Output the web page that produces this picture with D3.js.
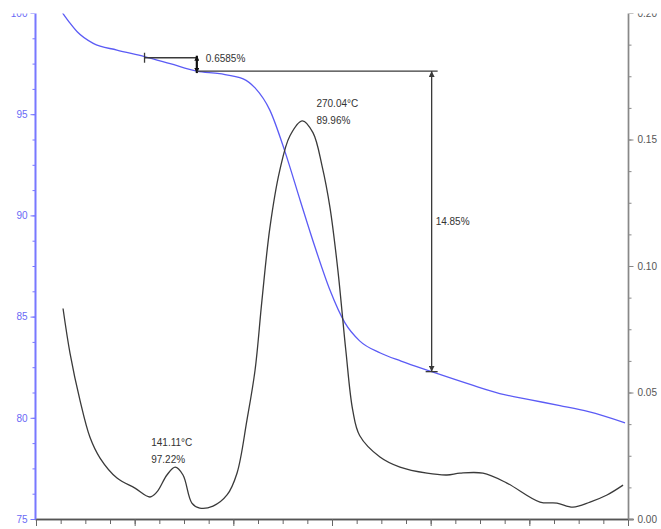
<!DOCTYPE html>
<html>
<head>
<meta charset="utf-8">
<script src="https://cdn.jsdelivr.net/npm/d3@7"></script>
<style>
  html, body { margin: 0; padding: 0; background: #fff; }
  svg { display: block; font-family: "Liberation Sans", Arial, sans-serif; }
</style>
</head>
<body>
<svg id="chart" width="661" height="529"></svg>
<script>
// ---- data ----
const tgTemp  = [27, 34.5, 42, 58, 82, 110, 136, 163, 186, 210, 222, 237, 252, 268, 283, 298, 313, 328, 349, 370, 401, 440, 470, 500, 531, 560, 597];
const tgValue = [100, 99.5, 99.06, 98.5, 98.17, 97.85, 97.5, 97.13, 97.0, 96.75, 96.3, 95.2, 93.2, 90.7, 88.4, 86.3, 84.7, 83.8, 83.2, 82.8, 82.28, 81.65, 81.2, 80.9, 80.6, 80.3, 79.75];

const dtgTemp  = [27.4, 34.5, 44.6, 54.7, 64.9, 82.1, 100.3, 115.5, 122.6, 132.7, 141.1, 149, 158, 166, 179.4, 193.6, 203.7, 213.8, 222, 229, 237, 247, 257.4, 270, 280.7, 289.9, 298, 306, 314, 321, 328, 348.6, 368.9, 396.3, 416.5, 429.7, 453, 477.3, 510.8, 528, 544.2, 561.5, 578.7, 595];
const dtgValue = [0.0832, 0.0655, 0.0469, 0.0323, 0.0241, 0.0162, 0.0122, 0.0087, 0.0107, 0.0174, 0.0205, 0.0174, 0.0063, 0.0043, 0.0051, 0.0095, 0.0181, 0.0391, 0.0588, 0.0864, 0.115, 0.1377, 0.1515, 0.1574, 0.1527, 0.1396, 0.1230, 0.0982, 0.0667, 0.043, 0.033, 0.0245, 0.0205, 0.0181, 0.0174, 0.0181, 0.0181, 0.0142, 0.0067, 0.0063, 0.0047, 0.0067, 0.0095, 0.0134];

const leftTicks  = [75, 80, 85, 90, 95, 100];
const leftLabels = ["75", "80", "85", "90", "95", "100"];
const rightTicks = [0, 0.05, 0.10, 0.15, 0.20];
const rightLabels = ["0.00", "0.05", "0.10", "0.15", "0.20"];
const xMajorTicks = [0, 100, 200, 300, 400, 500, 600];

// step annotation: temperatures and TG levels
const stepTemps  = [110, 163, 401];
const stepLevels = [97.79, 97.13, 82.28];
const stepLabels = ["0.6585%", "14.85%"];
const peakTemps  = [141.11, 270.04];
const peakLabels = [["141.11°C", "97.22%"], ["270.04°C", "89.96%"]];

// ---- layout ----
const svg = d3.select("#chart");
const L = 35.5, R = 628.5, T = 13, B = 519;

const x  = d3.scaleLinear().domain([0, 600]).range([36, 628]);
const yL = d3.scaleLinear().domain([75, 100]).range([B, T]);
const yR = d3.scaleLinear().domain([0, 0.20]).range([B, T]);

const blue = "#5b5bf5";
const ink = "#3a3a3a";

// defs for arrowheads
const defs = svg.append("defs");
defs.append("marker").attr("id", "arr").attr("viewBox", "0 0 10 10")
  .attr("refX", 10).attr("refY", 5).attr("markerWidth", 6).attr("markerHeight", 6)
  .attr("markerUnits", "userSpaceOnUse").attr("orient", "auto-start-reverse")
  .append("path").attr("d", "M0,0 L10,5 L0,10 Z").attr("fill", ink);
defs.append("marker").attr("id", "arrS").attr("viewBox", "0 0 10 10")
  .attr("refX", 10).attr("refY", 5).attr("markerWidth", 6).attr("markerHeight", 5)
  .attr("markerUnits", "userSpaceOnUse").attr("orient", "auto-start-reverse")
  .append("path").attr("d", "M0,0 L10,5 L0,10 Z").attr("fill", "#111");

// ---- axes ----
const minorL = d3.range(75, 100.01, 1.25);
const minorR = d3.range(0, 0.2001, 0.0125);
const minorX = d3.range(0, 600.01, 25);

// bottom axis
const gx = svg.append("g").attr("transform", `translate(0,${B})`);
gx.call(d3.axisBottom(x).tickValues(minorX).tickSize(5).tickFormat(""));
gx.append("g").call(d3.axisBottom(x).tickValues(xMajorTicks).tickSize(7).tickFormat(""));
gx.selectAll("path.domain").attr("stroke", "#555").attr("stroke-width", 1.3).attr("d", `M${L},0.5H${R + 5}`);
gx.selectAll(".tick line").attr("stroke", "#666");

// left axis
const gl = svg.append("g").attr("transform", `translate(${L},0)`);
gl.call(d3.axisLeft(yL).tickValues(minorL).tickSize(3).tickFormat(""));
const glm = gl.append("g").call(d3.axisLeft(yL).tickValues(leftTicks).tickSize(5)
  .tickFormat((d, i) => leftLabels[i]).tickPadding(3));
gl.selectAll("path.domain").attr("stroke", "#7878ff").attr("stroke-width", 1.6).attr("d", `M0,${T}V${B}`);
gl.selectAll(".tick line").attr("stroke", "#7878ff");
glm.selectAll("text").attr("fill", "#6a6af5").style("font-size", "10px").style("font-family", "Liberation Sans, Arial, sans-serif");

// right axis
const gr = svg.append("g").attr("transform", `translate(${R},0)`);
gr.call(d3.axisRight(yR).tickValues(minorR).tickSize(3).tickFormat(""));
const grm = gr.append("g").call(d3.axisRight(yR).tickValues(rightTicks).tickSize(5)
  .tickFormat((d, i) => rightLabels[i]).tickPadding(4));
gr.selectAll("path.domain").attr("stroke", "#888").attr("stroke-width", 1.4).attr("d", `M0,${T}V${B}`);
gr.selectAll(".tick line").attr("stroke", "#888");
grm.selectAll("text").attr("fill", "#555").style("font-size", "10px").style("font-family", "Liberation Sans, Arial, sans-serif");

// ---- curves ----
const tgLine = d3.line().x((d, i) => x(tgTemp[i])).y(d => yL(d)).curve(d3.curveMonotoneX);
svg.append("path").attr("d", tgLine(tgValue)).attr("fill", "none").attr("stroke", blue).attr("stroke-width", 1.3);

const dtgLine = d3.line().x((d, i) => x(dtgTemp[i])).y(d => yR(d)).curve(d3.curveCatmullRom.alpha(0.5));
svg.append("path").attr("d", dtgLine(dtgValue)).attr("fill", "none").attr("stroke", ink).attr("stroke-width", 1.3);

// ---- step annotations ----
const xa = x(stepTemps[0]), xb = x(stepTemps[1]), xc = x(stepTemps[2]);
const ya = yL(stepLevels[0]), yb = yL(stepLevels[1]), yc = yL(stepLevels[2]);
const ann = svg.append("g").attr("stroke", ink).attr("stroke-width", 1.3).attr("fill", "none");
// small step
ann.append("line").attr("x1", xa).attr("x2", xb).attr("y1", ya).attr("y2", ya);
ann.append("line").attr("x1", xa).attr("x2", xa).attr("y1", ya - 5).attr("y2", ya + 5);
ann.append("line").attr("x1", xb).attr("x2", xb).attr("y1", ya - 2).attr("y2", yb + 2)
  .attr("stroke", "#111").attr("stroke-width", 2.2)
  .attr("marker-start", "url(#arrS)").attr("marker-end", "url(#arrS)");
// big step
ann.append("line").attr("x1", xb).attr("x2", xc + 6).attr("y1", yb).attr("y2", yb);
ann.append("line").attr("x1", xc).attr("x2", xc).attr("y1", yb).attr("y2", yc)
  .attr("marker-start", "url(#arr)").attr("marker-end", "url(#arr)");
ann.append("line").attr("x1", xc - 6).attr("x2", xc + 6).attr("y1", yc).attr("y2", yc);

const txt = svg.append("g").attr("fill", "#333").style("font-size", "10px");
txt.append("text").attr("x", xb + 9).attr("y", ya + 4).text(stepLabels[0]);
txt.append("text").attr("x", xc + 4).attr("y", (yb + yc) / 2 + 4).text(stepLabels[1]);

// peak labels
const p1 = peakTemps[0], p2 = peakTemps[1];
txt.append("text").attr("x", x(p1) - 24).attr("y", yR(0.0205) - 21).text(peakLabels[0][0]);
txt.append("text").attr("x", x(p1) - 24).attr("y", yR(0.0205) - 4).text(peakLabels[0][1]);
txt.append("text").attr("x", x(p2) + 14).attr("y", yR(0.1574) - 14).text(peakLabels[1][0]);
txt.append("text").attr("x", x(p2) + 14).attr("y", yR(0.1574) + 3).text(peakLabels[1][1]);

// top crop of the original picture
svg.append("rect").attr("x", 0).attr("y", 0).attr("width", 661).attr("height", 13.5).attr("fill", "#fff");
</script>
</body>
</html>
